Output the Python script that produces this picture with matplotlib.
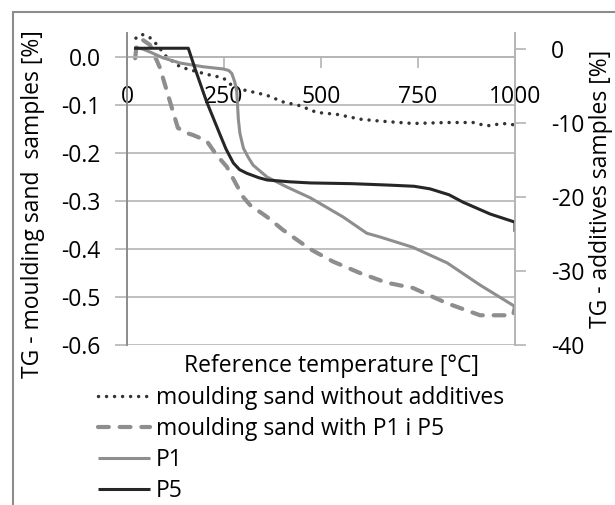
import matplotlib
matplotlib.use("Agg")
import matplotlib.pyplot as plt
from matplotlib.patches import Rectangle

plt.rcParams['font.family'] = ['Open Sans', 'DejaVu Sans']

# ---- data ----
t_sand = [23, 38, 59, 72, 102, 137, 180, 214, 248, 278, 317, 360, 402, 446, 489, 541, 601, 652, 737, 824, 892, 927, 969, 1000]
tg_sand = [0.040, 0.048, 0.041, 0.031, 0.001, -0.020, -0.030, -0.037, -0.043, -0.064, -0.071, -0.079, -0.093, -0.101,
           -0.115, -0.119, -0.129, -0.133, -0.138, -0.136, -0.136, -0.143, -0.138, -0.141]

t_sand_p = [21, 25, 41, 59, 85, 111, 131, 150, 170, 205, 231, 257, 299, 317, 361, 402, 472, 531, 601, 669, 737, 825, 910, 995, 1000]
tg_sand_p = [-0.002, 0.026, 0.036, 0.026, -0.022, -0.093, -0.147, -0.157, -0.162, -0.174, -0.204, -0.228, -0.291, -0.308,
             -0.333, -0.360, -0.400, -0.426, -0.450, -0.470, -0.481, -0.513, -0.538, -0.538, -0.520]

t_p1 = [20, 40, 59, 93, 137, 196, 248, 262, 270, 278, 283, 287, 291, 300, 312, 325, 361, 410, 472, 557, 618, 652, 737, 825, 910, 1000]
tg_p1 = [0.2, 0.0, -0.4, -1.2, -1.9, -2.4, -2.7, -2.9, -3.3, -4.5, -5.8, -9.5, -11.4, -13.4, -14.6, -15.7, -17.3, -18.6,
         -20.1, -22.7, -24.9, -25.4, -26.8, -28.9, -31.9, -34.8]

t_p5 = [18, 60, 100, 158, 175, 205, 240, 255, 274, 290, 309, 340, 361, 420, 472, 580, 678, 740, 781, 830, 866, 936, 1000, 1000]
tg_p5 = [0.1, 0.1, 0.1, 0.1, -2.6, -7.1, -11.6, -13.5, -15.4, -16.3, -16.8, -17.4, -17.7, -17.95, -18.1, -18.2, -18.4,
         -18.55, -18.9, -19.7, -20.7, -22.3, -23.4, -24.7]

x_ticks = [0, 250, 500, 750, 1000]
left_ticks = [0.0, -0.1, -0.2, -0.3, -0.4, -0.5, -0.6]
right_ticks = [0, -10, -20, -30, -40]

labels = ['moulding sand without additives', 'moulding sand with P1 i P5', 'P1', 'P5']

# ---- figure ----
W, H = 615, 505
fig = plt.figure(figsize=(W / 100, H / 100), dpi=100)
L, R, T, B = 127, 515, 33, 345
ax = fig.add_axes([L / W, 1 - B / H, (R - L) / W, (B - T) / H])
ax2 = ax.twinx()

grid_c = '#b4b4b4'
spine_c = '#8c8c8c'
fs = 16.5

ax.spines['bottom'].set_position(('data', 0.0))

l1, = ax.plot(t_sand, tg_sand, color='#333333', lw=2.5, linestyle=(0, (0.01, 2.3)), dash_capstyle='round')
l2, = ax.plot(t_sand_p, tg_sand_p, color='#8e8e8e', lw=3.0, linestyle=(0, (2.6, 2.6)), dash_capstyle='round')
l3, = ax2.plot(t_p1, tg_p1, color='#8e8e8e', lw=2.2, solid_capstyle='butt')
l4, = ax2.plot(t_p5, tg_p5, color='#262626', lw=2.2, solid_capstyle='butt')

ax.set_xlim(0, 1000)
ax.set_ylim(-0.6, 0.0507)
ax2.set_ylim(-40, 2.16)

ax.set_yticks(left_ticks)
ax.set_yticklabels([f'{v:.1f}' for v in left_ticks])
ax.yaxis.grid(True, color=grid_c, lw=1.2)
ax.set_axisbelow(True)
ax.tick_params(axis='y', direction='out', length=9, width=1.2, color=grid_c, pad=10, labelsize=fs)

ax.set_xticks(x_ticks)
ax.set_xticklabels([str(v) for v in x_ticks])
ax.spines['bottom'].set_color(grid_c)
ax.spines['bottom'].set_linewidth(1.2)
ax.tick_params(axis='x', direction='out', length=8, width=1.2, color=grid_c, pad=12, labelsize=fs)

ax2.set_yticks(right_ticks)
ax2.set_yticklabels([str(v) for v in right_ticks])
ax2.tick_params(axis='y', direction='out', length=8, width=1.2, color=grid_c, pad=18, labelsize=fs)

for a in (ax, ax2):
    a.spines['top'].set_visible(False)
    a.spines['left'].set_color(spine_c)
    a.spines['right'].set_color(grid_c)
    a.spines['left'].set_linewidth(1.2)
    a.spines['right'].set_linewidth(1.2)
ax2.spines['bottom'].set_visible(False)

# axis titles
fig.text(33 / W, 1 - 204 / H, 'TG - moulding sand  samples [%]', rotation=90, ha='center', va='center', fontsize=fs)
fig.text(601 / W, 1 - 189 / H, 'TG - additives samples [%]', rotation=90, ha='center', va='center', fontsize=fs)
fig.text(331 / W, 1 - 366 / H, 'Reference temperature [°C]', ha='center', va='center', fontsize=fs)

# legend
leg = fig.legend([l1, l2, l3, l4], labels, loc='upper left', bbox_to_anchor=(98 / W, 1 - 386 / H),
                 frameon=False, fontsize=fs, handlelength=2.25, handletextpad=0.28, labelspacing=0.31,
                 borderaxespad=0, borderpad=0)

# outer frame of the chart
fig.patches.append(Rectangle((13 / W, -0.1), 1.2, (1 - 12 / H) + 0.1, transform=fig.transFigure,
                             fill=False, edgecolor='#8c8c8c', lw=1.5))

fig.savefig('out.png', dpi=100)
